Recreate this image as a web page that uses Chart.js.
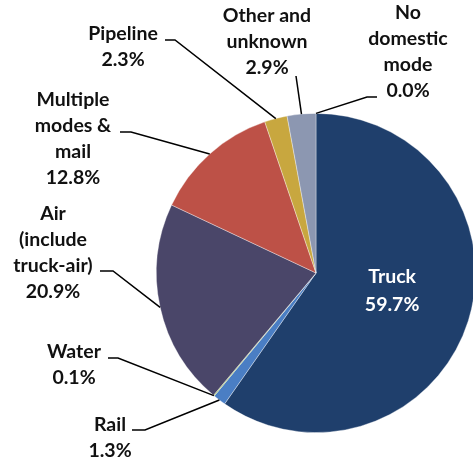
<!DOCTYPE html>
<html>
<head>
<meta charset="utf-8">
<script src="https://cdn.jsdelivr.net/npm/chart.js@4.4.0/dist/chart.umd.min.js"></script>
<style>
  html, body { margin: 0; padding: 0; background: #fff; overflow: hidden; }
  #wrap { position: relative; width: 480px; height: 463px; }
</style>
</head>
<body>
<div id="wrap"><canvas id="pieModes"></canvas></div>
<script>
// shipment value share by mode, clockwise from 12 o'clock
const modes = ["Truck", "Rail", "Water", "Air (include truck-air)", "Multiple modes & mail", "Pipeline", "Other and unknown", "No domestic mode"];
const shares = [59.7, 1.3, 0.1, 20.9, 12.8, 2.3, 2.9, 0.0];
const colors = ["#1f3f6c", "#4a7ec4", "#9bbb59", "#4a4669", "#bd5147", "#c8a73f", "#8c97b1", "#7f7f7f"];

// label text lines + where each callout sits (x, first-line y, elbow end, line height 26)
const callouts = [
  { lines: ["Truck", "59.7%"], inside: true },
  { lines: ["Rail", "1.3%"], x: 110, y: 425, from: [132, 430], elbow: [145, 430] },
  { lines: ["Water", "0.1%"], x: 74, y: 352, from: [108, 358], elbow: [118, 358] },
  { lines: ["Air", "(include", "truck-air)", "20.9%"], x: 53, y: 214, from: [100, 271], elbow: [113, 271] },
  { lines: ["Multiple", "modes &", "mail", "12.8%"], x: 73, y: 100, from: [120, 132], elbow: [131, 132] },
  { lines: ["Pipeline", "2.3%"], x: 123, y: 34, from: [165, 40], elbow: [175, 40] },
  { lines: ["Other and", "unknown", "2.9%"], x: 267, y: 16, from: [296, 76], elbow: [296, 76] },
  { lines: ["No", "domestic", "mode", "0.0%"], x: 408, y: 13, from: [377, 97], elbow: [367, 97] }
];

const calloutPlugin = {
  id: "callouts",
  afterDatasetsDraw(chart) {
    const ctx = chart.ctx;
    const arcs = chart.getDatasetMeta(0).data;
    ctx.save();
    ctx.font = "bold 19.5px Lato, 'Open Sans', sans-serif";
    ctx.textAlign = "center";
    ctx.textBaseline = "middle";
    callouts.forEach((c, i) => {
      const arc = arcs[i];
      const mid = (arc.startAngle + arc.endAngle) / 2;
      if (c.inside) {
        const r = arc.outerRadius / 2;
        const cx = arc.x + Math.cos(mid) * r, cy = arc.y + Math.sin(mid) * r;
        ctx.fillStyle = "#ffffff";
        c.lines.forEach((t, k) => ctx.fillText(t, cx, cy - 20 + k * 28));
        return;
      }
      // leader line: label -> elbow -> slice edge midpoint
      const ex = arc.x + Math.cos(mid) * arc.outerRadius;
      const ey = arc.y + Math.sin(mid) * arc.outerRadius;
      ctx.strokeStyle = "#000";
      ctx.lineWidth = 1.5;
      ctx.beginPath();
      ctx.moveTo(c.from[0], c.from[1]);
      ctx.lineTo(c.elbow[0], c.elbow[1]);
      ctx.lineTo(ex, ey);
      ctx.stroke();
      ctx.fillStyle = "#111";
      c.lines.forEach((t, k) => ctx.fillText(t, c.x, c.y + k * 26));
    });
    ctx.restore();
  }
};

new Chart(document.getElementById("pieModes"), {
  type: "pie",
  data: {
    labels: modes,
    datasets: [{
      data: shares,
      backgroundColor: colors,
      borderColor: "rgba(255,255,255,0.45)",
      borderWidth: 0.8
    }]
  },
  options: {
    responsive: true,
    maintainAspectRatio: false,
    animation: false,
    layout: { padding: { left: 156, right: 4, top: 113, bottom: 30 } },
    plugins: { legend: { display: false }, tooltip: { enabled: false } }
  },
  plugins: [calloutPlugin]
});
</script>
</body>
</html>
